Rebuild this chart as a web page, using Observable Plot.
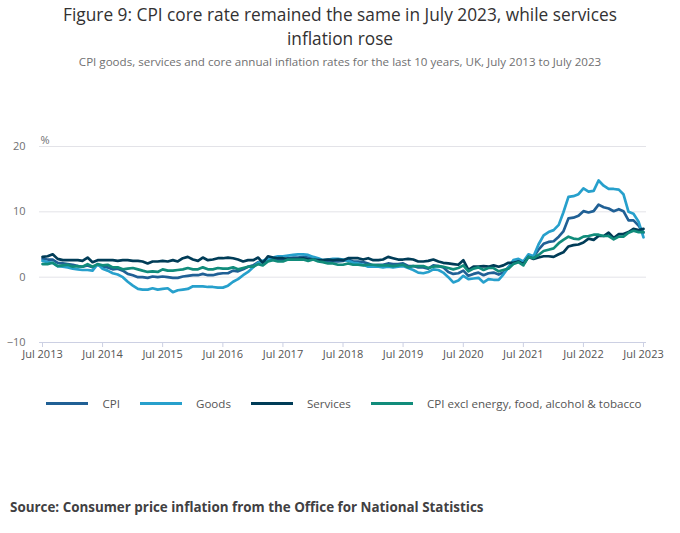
<!DOCTYPE html>
<html>
<head>
<meta charset="utf-8">
<script src="https://cdn.jsdelivr.net/npm/d3@7"></script>
<script src="https://cdn.jsdelivr.net/npm/@observablehq/plot@0.6"></script>
<style>
  html, body { margin: 0; padding: 0; background: #fff; }
  body { width: 680px; height: 533px; position: relative; font-family: "Open Sans", sans-serif; overflow: hidden; }
  .tl { position: absolute; left: 0; width: 680px; text-align: center; font-size: 17.3px; line-height: 20px; color: #323132; white-space: nowrap; }
  #t1 { top: 5px; }
  #t2 { top: 28.5px; }
  #subtitle { position: absolute; top: 54px; left: 0; width: 680px; text-align: center; font-size: 11.6px; color: #707071; }
  #chart { position: absolute; top: 120px; left: 0; }
  #legend { position: absolute; top: 396px; left: 0; width: 680px; display: flex; justify-content: center; align-items: center; font-size: 11.6px; color: #555; padding-left: 8px; box-sizing: border-box; }
  .item { display: flex; align-items: center; margin-right: 20px; }
  .item:last-child { margin-right: 0; }
  .sw { width: 42px; height: 3px; margin-right: 14px; }
  #source { position: absolute; top: 498px; left: 10px; font-size: 13.4px; font-weight: 700; color: #414042; }
</style>
</head>
<body>
<div class="tl" id="t1">Figure 9: CPI core rate remained the same in July 2023, while services</div>
<div class="tl" id="t2">inflation rose</div>
<div id="subtitle">CPI goods, services and core annual inflation rates for the last 10 years, UK, July 2013 to July 2023</div>
<div id="chart"></div>
<div id="legend"></div>
<div id="source">Source: Consumer price inflation from the Office for National Statistics</div>
<script>
// Series names and colours
const seriesNames = ["CPI", "Goods", "Services", "CPI excl energy, food, alcohol & tobacco"];
const seriesColors = ["#206095", "#27a0cc", "#003c57", "#118c7b"];

// Monthly annual rates, Jul 2013 to Jul 2023
const cpi = [
  2.8, 2.7, 2.7, 2.2, 2.1, 2.0,
  1.9, 1.7, 1.6, 1.8, 1.5, 1.9, 1.6, 1.5, 1.2, 1.3, 1.0, 0.5,
  0.3, 0.0, 0.0, -0.1, 0.1, 0.0, 0.1, 0.0, -0.1, -0.1, 0.1, 0.2,
  0.3, 0.3, 0.5, 0.3, 0.3, 0.5, 0.6, 0.6, 1.0, 0.9, 1.2, 1.6,
  1.8, 2.3, 2.3, 2.7, 2.9, 2.6, 2.6, 2.9, 3.0, 3.0, 3.1, 3.0,
  3.0, 2.7, 2.5, 2.4, 2.4, 2.4, 2.5, 2.7, 2.4, 2.4, 2.3, 2.1,
  1.8, 1.9, 1.9, 2.1, 2.0, 2.0, 2.1, 1.7, 1.7, 1.5, 1.5, 1.3,
  1.8, 1.7, 1.5, 0.8, 0.5, 0.6, 1.0, 0.2, 0.5, 0.7, 0.3, 0.6,
  0.7, 0.4, 0.7, 1.5, 2.1, 2.5, 2.0, 3.2, 3.1, 4.2, 5.1, 5.4,
  5.5, 6.2, 7.0, 9.0, 9.1, 9.4, 10.1, 9.9, 10.1, 11.1, 10.7, 10.5,
  10.1, 10.4, 10.1, 8.7, 8.7, 7.9, 6.8
];
const goods = [
  2.5, 2.3, 2.2, 1.7, 1.6, 1.5,
  1.3, 1.2, 1.1, 1.1, 1.0, 2.0, 1.3, 1.0, 0.6, 0.4, 0.0, -0.7,
  -1.3, -1.8, -1.9, -1.9, -1.7, -1.9, -1.8, -1.7, -2.3, -2.0, -1.9, -1.8,
  -1.4, -1.4, -1.4, -1.5, -1.5, -1.6, -1.6, -1.3, -0.7, -0.3, 0.3, 0.8,
  1.5, 2.2, 2.5, 2.8, 3.0, 3.2, 3.2, 3.3, 3.4, 3.5, 3.5, 3.4,
  3.1, 2.9, 2.6, 2.7, 2.8, 2.8, 2.7, 2.5, 2.2, 2.1, 1.9, 1.6,
  1.6, 1.6, 1.5, 1.6, 1.5, 1.6, 1.7, 1.4, 1.1, 0.7, 0.6, 0.8,
  1.2, 1.1, 0.7, 0.0, -0.8, -0.5, 0.2, -0.3, -0.2, -0.1, -0.8, -0.3,
  -0.4, -0.4, 0.4, 1.5, 2.6, 2.8, 2.4, 3.5, 3.2, 5.0, 6.4, 6.9,
  7.2, 8.0, 9.9, 12.3, 12.4, 12.7, 13.6, 13.1, 13.2, 14.8, 14.0, 13.5,
  13.5, 13.4, 12.7, 10.0, 9.7, 8.5, 6.1
];
const services = [
  3.1, 3.2, 3.5, 2.8, 2.6, 2.6,
  2.6, 2.6, 2.5, 3.0, 2.3, 2.6, 2.6, 2.6, 2.6, 2.5, 2.6, 2.6,
  2.5, 2.5, 2.4, 2.1, 2.4, 2.4, 2.5, 2.4, 2.6, 2.4, 2.9, 3.1,
  2.7, 2.5, 3.0, 2.6, 2.7, 2.9, 2.9, 3.0, 2.9, 2.7, 2.4, 2.6,
  2.6, 3.0, 2.2, 3.2, 3.0, 2.9, 2.9, 2.8, 2.8, 2.8, 2.9, 2.7,
  2.7, 2.6, 2.6, 2.7, 2.6, 2.7, 2.6, 2.9, 2.9, 2.9, 2.7, 2.9,
  2.6, 2.6, 2.7, 3.1, 2.9, 2.7, 2.7, 2.8, 2.7, 2.4, 2.4, 2.5,
  2.7, 2.4, 2.2, 2.1, 2.0, 1.9, 2.6, 1.1, 1.6, 1.6, 1.7, 1.6,
  1.8, 1.6, 1.8, 2.2, 2.2, 2.4, 2.0, 3.1, 2.8, 3.0, 3.2, 3.2,
  3.1, 3.5, 3.8, 4.7, 4.9, 5.0, 5.3, 5.9, 5.7, 6.3, 6.3, 6.8,
  6.0, 6.6, 6.6, 6.9, 7.4, 7.2, 7.4
];
const core = [
  2.0, 2.0, 2.2, 1.7, 1.8, 1.9,
  1.6, 1.7, 1.6, 2.0, 1.6, 2.0, 1.8, 1.9, 1.5, 1.5, 1.2, 1.3,
  1.4, 1.2, 1.0, 0.8, 0.9, 0.8, 1.2, 1.0, 1.0, 1.1, 1.2, 1.4,
  1.2, 1.2, 1.5, 1.2, 1.2, 1.4, 1.3, 1.3, 1.5, 1.2, 1.4, 1.6,
  1.6, 2.0, 1.8, 2.4, 2.6, 2.4, 2.4, 2.7, 2.7, 2.7, 2.7, 2.5,
  2.7, 2.4, 2.3, 2.1, 2.1, 1.9, 1.9, 2.1, 1.9, 1.9, 1.8, 1.9,
  1.9, 1.8, 1.8, 1.8, 1.7, 1.8, 1.9, 1.5, 1.7, 1.7, 1.7, 1.4,
  1.6, 1.7, 1.6, 1.4, 1.2, 1.4, 1.8, 0.9, 1.3, 1.5, 1.1, 1.4,
  1.4, 0.9, 1.1, 1.3, 2.0, 2.3, 1.8, 3.1, 2.9, 3.4, 4.0, 4.2,
  4.4, 5.2, 5.7, 6.2, 5.9, 5.8, 6.2, 6.3, 6.5, 6.5, 6.3, 6.3,
  5.8, 6.2, 6.2, 6.8, 7.1, 6.9, 6.9
];

const yTicks = [-10, 0, 10, 20];
const xTickLabels = ["Jul 2013","Jul 2014","Jul 2015","Jul 2016","Jul 2017","Jul 2018","Jul 2019","Jul 2020","Jul 2021","Jul 2022","Jul 2023"];

const start = new Date(Date.UTC(2013, 6, 1));
const seriesValues = [cpi, goods, services, core];
const data = [];
seriesValues.forEach((vals, s) => {
  vals.forEach((v, i) => data.push({ series: seriesNames[s], date: d3.utcMonth.offset(start, i), value: v }));
});
const xTicks = xTickLabels.map((_, i) => d3.utcYear.offset(start, i));

const chart = Plot.plot({
  width: 680,
  height: 250,
  marginTop: 26,
  marginBottom: 28,
  marginLeft: 42,
  marginRight: 37,
  style: { fontFamily: "Open Sans, sans-serif", fontSize: "11px", color: "#707071", background: "transparent" },
  x: { type: "utc", domain: [xTicks[0], xTicks[xTicks.length - 1]] },
  y: { domain: [-10, 20] },
  color: { domain: seriesNames, range: seriesColors },
  marks: [
    Plot.gridY(yTicks.filter(d => d > -10), { stroke: "#e3e3e8", strokeOpacity: 1, inset: -3 }),
    Plot.axisY(yTicks, { tickSize: 0, tickPadding: 17, label: null, fontSize: 11, fill: "#707071" }),
    Plot.ruleY([-10], { stroke: "#ccd0e3", strokeWidth: 1, inset: -3 }),
    Plot.axisX(xTicks, { tickSize: 5, tickPadding: 3, stroke: "#ccd0e3", tickFormat: (d, i) => xTickLabels[i], label: null, fontSize: 11, fill: "#555" }),
    Plot.lineY(data, { x: "date", y: "value", z: "series", stroke: "series", strokeWidth: 2.7, strokeLinejoin: "round" }),
    Plot.text(["%"], { frameAnchor: "top-left", dy: -10, dx: -2, textAnchor: "start", fontSize: 11, fill: "#707071" })
  ]
});
document.getElementById("chart").appendChild(chart);

const legend = document.getElementById("legend");
seriesNames.forEach((name, i) => {
  const item = document.createElement("div");
  item.className = "item";
  const sw = document.createElement("div");
  sw.className = "sw";
  sw.style.background = seriesColors[i];
  const t = document.createElement("span");
  t.textContent = name;
  item.appendChild(sw);
  item.appendChild(t);
  legend.appendChild(item);
});
</script>
</body>
</html>
